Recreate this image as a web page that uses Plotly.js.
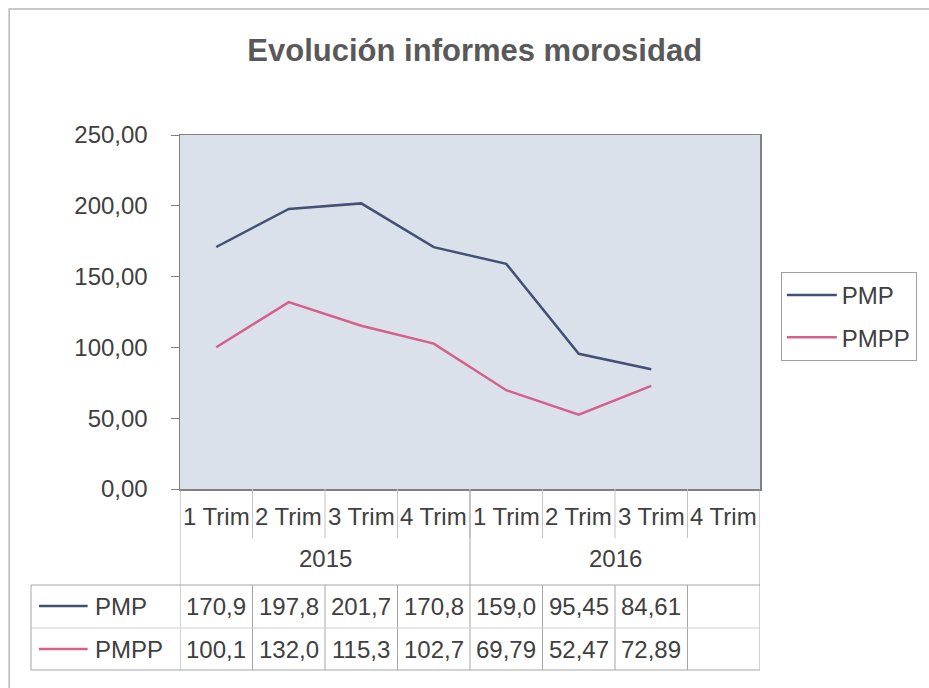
<!DOCTYPE html>
<html><head><meta charset="utf-8">
<script src="https://cdn.plot.ly/plotly-3.0.1.min.js"></script>
<style>html,body{margin:0;padding:0;background:#fff}</style>
</head><body><div id="chart" style="width:929px;height:688px"></div>
<script>
// ---- data ----
const quarters = ['1 Trim','2 Trim','3 Trim','4 Trim','1 Trim','2 Trim','3 Trim','4 Trim'];
const years = ['2015','2016'];
const yearSpan = [[0,3],[4,7]];
const seriesNames = ['PMP','PMPP'];
const pmp  = [170.9,197.8,201.7,170.8,159.0,95.45,84.61,null];
const pmpp = [100.1,132.0,115.3,102.7,69.79,52.47,72.89,null];
const yTicks = [0,50,100,150,200,250];

// ---- styling / layout helpers ----
const colors = ['#425174','#d65f8b'];
const FONT = '"Liberation Sans", Arial, sans-serif';
const L=180, R=764, T=135, B=489, W=929, H=688;
const xp = p => (p-L)/(R-L);
const yp = p => (B-p)/(B-T);
const idx = quarters.map((_,i)=>i);
const series = [pmp, pmpp];
const fmt = v => (v==null ? '' : v.toPrecision(4).replace('.', ','));

const traces = series.map((s,i)=>({
  type:'scatter', mode:'lines', name:seriesNames[i], legendgroup:'g'+i,
  x: idx, y: s, line:{color:colors[i], width:2.5}, connectgaps:false,
  hoverinfo:'skip'
}));

const gridCol = '#a6a6a6';
const shapes = [];
const ln = (x0,y0,x1,y1,xr,col,w) => shapes.push({type:'line', xref:xr||'x', yref:'paper',
  x0, y0, x1, y1, line:{color:col||gridCol, width:w||1}});
// outer chart border
shapes.push({type:'rect', xref:'paper', yref:'paper', x0:xp(8), y0:yp(H+10), x1:xp(W+10), y1:yp(9),
  line:{color:'#b8b8b8', width:1.5}, layer:'below'});
// table frame
const rowTop=585, rowMid=628, rowBot=670, catBot=538;
ln(-0.5, yp(B), -0.5, yp(rowBot));
ln(quarters.length-0.5, yp(B), quarters.length-0.5, yp(rowBot));
idx.slice(0,-1).forEach(k=>{
  const xb=k+0.5;
  ln(xb, yp(B), xb, yp(catBot), 'x', '#c4c4c4');
  ln(xb, yp(rowTop), xb, yp(rowBot));
});
yearSpan.slice(0,-1).forEach(sp=>ln(sp[1]+0.5, yp(B), sp[1]+0.5, yp(rowTop)));
[rowTop,rowMid,rowBot].forEach((yy,i)=>shapes.push({type:'line', xref:'paper', yref:'paper',
  x0:xp(30), x1:xp(R), y0:yp(yy), y1:yp(yy), line:{color:i==1?'#cfcfcf':gridCol, width:1}}));
shapes.push({type:'line', xref:'paper', yref:'paper', x0:xp(30), x1:xp(30), y0:yp(rowTop), y1:yp(rowBot), line:{color:gridCol,width:1}});
// legend keys inside table
const rowCenters=[606,649];
seriesNames.forEach((n,i)=>shapes.push({type:'line', xref:'paper', yref:'paper',
  x0:xp(38), x1:xp(87), y0:yp(rowCenters[i]), y1:yp(rowCenters[i]), line:{color:colors[i], width:2.5}}));

const txt = '#404040';
const annotations = [];
quarters.forEach((q,k)=>annotations.push({xref:'x', yref:'paper', x:k, y:yp(516), text:q,
  showarrow:false, xanchor:'center', yanchor:'middle', font:{family:FONT,size:24,color:txt}}));
years.forEach((yv,j)=>annotations.push({xref:'x', yref:'paper', x:(yearSpan[j][0]+yearSpan[j][1])/2, y:yp(558), text:yv,
  showarrow:false, xanchor:'center', yanchor:'middle', font:{family:FONT,size:24,color:txt}}));
seriesNames.forEach((n,i)=>{
  annotations.push({xref:'paper', yref:'paper', x:xp(92), y:yp(rowCenters[i]), text:n, showarrow:false,
    xanchor:'left', yanchor:'middle', font:{family:FONT,size:24,color:txt}});
  series[i].forEach((v,k)=>{ if(v!=null) annotations.push({xref:'x', yref:'paper', x:k, y:yp(rowCenters[i]),
    text:fmt(v), showarrow:false, xanchor:'center', yanchor:'middle', font:{family:FONT,size:24,color:txt}}); });
});

const layout = {
  width:W, height:H, paper_bgcolor:'#ffffff', plot_bgcolor:'#dbe1ea',
  separators:',.',
  margin:{l:L, r:W-R, t:T, b:H-B, pad:0},
  title:{text:'Evolución informes morosidad', x:0.511, xanchor:'center', y:1-50/H, yanchor:'middle',
    font:{family:FONT, size:31, weight:'bold', color:'#595959'}},
  xaxis:{type:'linear', range:[-0.5, quarters.length-0.5], showticklabels:false, ticks:'',
    showgrid:false, zeroline:false, showline:true, mirror:true, linecolor:'#808080', linewidth:1.5},
  yaxis:{range:[0,250], tickvals:yTicks, tickformat:'.2f', ticks:'outside', ticklen:8, tickcolor:'#808080',
    showgrid:false, zeroline:false, showline:true, mirror:true, linecolor:'#808080', linewidth:1.5,
    ticklabelstandoff:18, tickfont:{family:FONT, size:24, color:txt}},
  legend:{x:xp(785), y:yp(272), xanchor:'left', yanchor:'top', bgcolor:'#ffffff',
    bordercolor:'#a0a0a0', borderwidth:1, font:{family:FONT, size:24, color:txt}, itemwidth:50,
    tracegroupgap:8},
  showlegend:true,
  shapes, annotations
};
Plotly.newPlot('chart', traces, layout, {displayModeBar:false, staticPlot:true});
</script></body></html>
